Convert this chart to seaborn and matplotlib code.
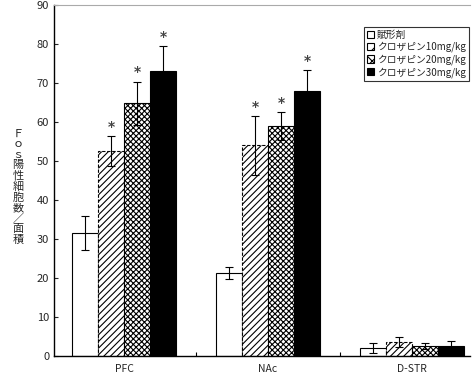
import matplotlib
matplotlib.use("Agg")
import matplotlib.pyplot as plt
import seaborn as sns
import pandas as pd
import numpy as np

categories = ["PFC", "NAc", "D-STR"]
groups = ["賦形剤", "クロザピン10mg/kg", "クロザピン20mg/kg", "クロザピン30mg/kg"]
vehicle = [31.5, 21.2, 2.0]
cloz10 = [52.5, 54.0, 3.5]
cloz20 = [64.8, 59.0, 2.6]
cloz30 = [73.0, 68.0, 2.6]
err_vehicle = [4.3, 1.5, 1.3]
err10 = [3.8, 7.5, 1.3]
err20 = [5.5, 3.6, 0.7]
err30 = [6.5, 5.3, 1.2]
signif = [[False, False, False], [True, True, False], [True, True, False], [True, True, False]]
ylabel_text = "Ｆｏｓ陽性細胞数／面積"

sns.set_style("white")
plt.rcParams['font.family'] = ['Noto Sans CJK JP', 'DejaVu Sans']
plt.rcParams['hatch.linewidth'] = 0.8

vals = [vehicle, cloz10, cloz20, cloz30]
errs = [err_vehicle, err10, err20, err30]
rows = []
for g, v in zip(groups, vals):
    for c, val in zip(categories, v):
        rows.append({"region": c, "group": g, "value": val})
df = pd.DataFrame(rows)

fig = plt.figure(figsize=(4.76, 3.81), dpi=100)
ax = fig.add_axes([54/476, 1-356/381, (470-54)/476, (356-5)/381])

palette = ["white", "white", "white", "black"]
sns.barplot(data=df, x="region", y="value", hue="group", order=categories,
            hue_order=groups, palette=palette, width=0.72, edgecolor="black",
            linewidth=0.8, errorbar=None, ax=ax, legend=True)

hatches = [None, "/////", "xxxxxx", None]
styles = ["solid", (0, (3, 1.5)), "solid", "solid"]
bar_containers = list(ax.containers)
for gi, cont in enumerate(bar_containers):
    for ci, bar in enumerate(cont):
        if hatches[gi]:
            bar.set_hatch(hatches[gi])
        bar.set_linestyle(styles[gi])
        x = bar.get_x() + bar.get_width()/2
        h = bar.get_height()
        e = errs[gi][ci]
        ax.errorbar(x, h, yerr=e, color="black", capsize=3, elinewidth=0.8,
                    capthick=0.8, fmt="none")
        if signif[gi][ci]:
            ax.text(x, h + e + 0.6, "*", ha="center", va="bottom", fontsize=10,
                    color="#444444", family="DejaVu Sans", fontweight="bold")

ax.set_ylim(0, 90)
ax.set_xlim(-0.486, 2.403)
ax.set_yticks(range(0, 91, 10))
ax.set_xticks([0.5, 1.5], minor=True)
ax.tick_params(axis="y", direction="in", length=3, labelsize=8, left=True)
ax.tick_params(axis="x", which="major", length=0, labelsize=7.5, pad=6)
ax.tick_params(axis="x", which="minor", direction="in", length=3, width=0.8,
               bottom=True, color="black")
ax.set_xlabel("")
ax.set_ylabel("")
for s in ["left", "bottom"]:
    ax.spines[s].set_color("black")
    ax.spines[s].set_linewidth(1.0)
ax.spines["top"].set_color("#aaaaaa")
ax.spines["right"].set_visible(False)

fig.text(18/476, 1-187/381, "\n".join(ylabel_text), ha="center", va="center",
         fontsize=8, linespacing=1.05)

leg = ax.legend(loc="upper right", bbox_to_anchor=(1.0, 0.941), fontsize=7,
                frameon=True, fancybox=False, edgecolor="black",
                handlelength=0.8, handleheight=0.8, handletextpad=0.3,
                labelspacing=0.2, borderpad=0.3, borderaxespad=0.1)
leg.get_frame().set_linewidth(0.8)
for i, p in enumerate(leg.get_patches()):
    p.set_edgecolor("black")
    if hatches[i]:
        p.set_hatch(hatches[i][:3])

fig.savefig("out.png", dpi=100)
